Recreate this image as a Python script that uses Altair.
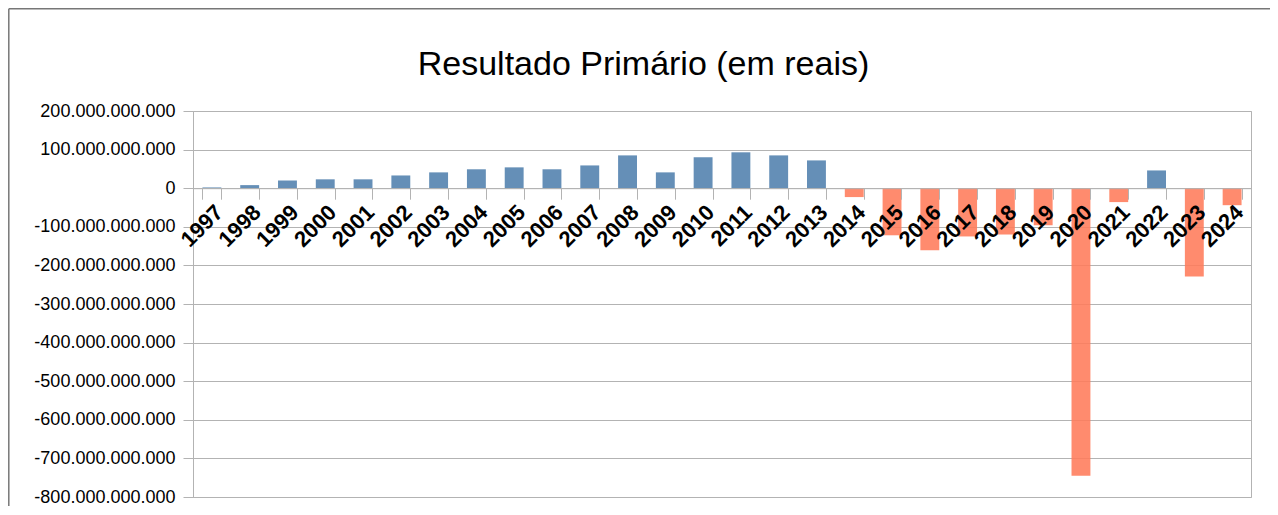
import altair as alt
import pandas as pd

# ---- data (in R$) ----
years = [str(y) for y in range(1997, 2025)]
values_bi = [2, 8, 20, 23, 23, 33, 41, 49, 54, 49, 59, 85, 41, 80, 93, 85, 72,
             -23, -122, -161, -125, -120, -96, -745, -36, 46, -229, -44]
y_ticks_bi = [-800, -700, -600, -500, -400, -300, -200, -100, 0, 100, 200]
title_text = "Resultado Primário (em reais)"

values = [v * 1_000_000_000 for v in values_bi]
y_ticks = [v * 1_000_000_000 for v in y_ticks_bi]
df = pd.DataFrame({
    "ano": years,
    "valor": values,
    "sinal": ["pos" if v >= 0 else "neg" for v in values],
})

W, H = 1058, 386
y_min, y_max = min(y_ticks), max(y_ticks)
zero_px = H * (y_max - 0) / (y_max - y_min)
x_axis_offset = -(H - zero_px)

FONT = "Liberation Sans"
GRID = "#b3b3b3"

bars = alt.Chart(df).mark_bar(opacity=0.88).encode(
    x=alt.X(
        "ano:N",
        sort=years,
        scale=alt.Scale(paddingInner=0.5, paddingOuter=0.25),
        axis=alt.Axis(
            title=None,
            orient="bottom",
            offset=x_axis_offset,
            labelAngle=315,
            labelFont=FONT,
            labelFontSize=22,
            labelFontWeight="bold",
            labelColor="#000000",
            labelPadding=2,
            tickBand="extent",
            tickSize=11,
            tickColor=GRID,
            domainColor=GRID,
            grid=False,
            zindex=1,
        ),
    ),
    y=alt.Y(
        "valor:Q",
        scale=alt.Scale(domain=[y_min, y_max], nice=False, zero=True),
        axis=alt.Axis(
            title=None,
            values=y_ticks,
            format=",d",
            labelFont=FONT,
            labelFontSize=18,
            labelColor="#000000",
            labelPadding=8,
            tickSize=10,
            tickColor=GRID,
            domainColor=GRID,
            gridColor=GRID,
            grid=True,
        ),
    ),
    color=alt.Color(
        "sinal:N",
        scale=alt.Scale(domain=["pos", "neg"], range=["#507fad", "#ff7b5a"]),
        legend=None,
    ),
)

title = alt.Chart(pd.DataFrame({"t": [title_text]})).mark_text(
    font=FONT, fontSize=34, color="#000000", align="center", baseline="alphabetic"
).encode(
    text="t:N",
    x=alt.value(450.5),
    y=alt.value(-36),
)

frame_left = alt.Chart(pd.DataFrame({"a": [0]})).mark_rule(
    color="#777777", strokeWidth=1.5
).encode(x=alt.value(-184.2), y=alt.value(-102.2), y2=alt.value(H + 20))

frame_top = alt.Chart(pd.DataFrame({"a": [0]})).mark_rule(
    color="#777777", strokeWidth=1.5
).encode(y=alt.value(-102.2), x=alt.value(-184.2), x2=alt.value(W + 40))

chart = alt.layer(frame_left, frame_top, bars, title).properties(
    width=W,
    height=H,
    autosize=alt.AutoSizeParams(type="none"),
    padding={"left": 185, "top": 103, "right": 19, "bottom": 9},
).configure(
    background="white",
    locale=alt.Locale(
        number=alt.NumberLocale(
            decimal=",", thousands=".", grouping=[3], currency=["R$", ""], minus="-"
        )
    ),
).configure_view(
    stroke=GRID
)

chart.save("out.html", embed_options={"renderer": "svg", "actions": False})
